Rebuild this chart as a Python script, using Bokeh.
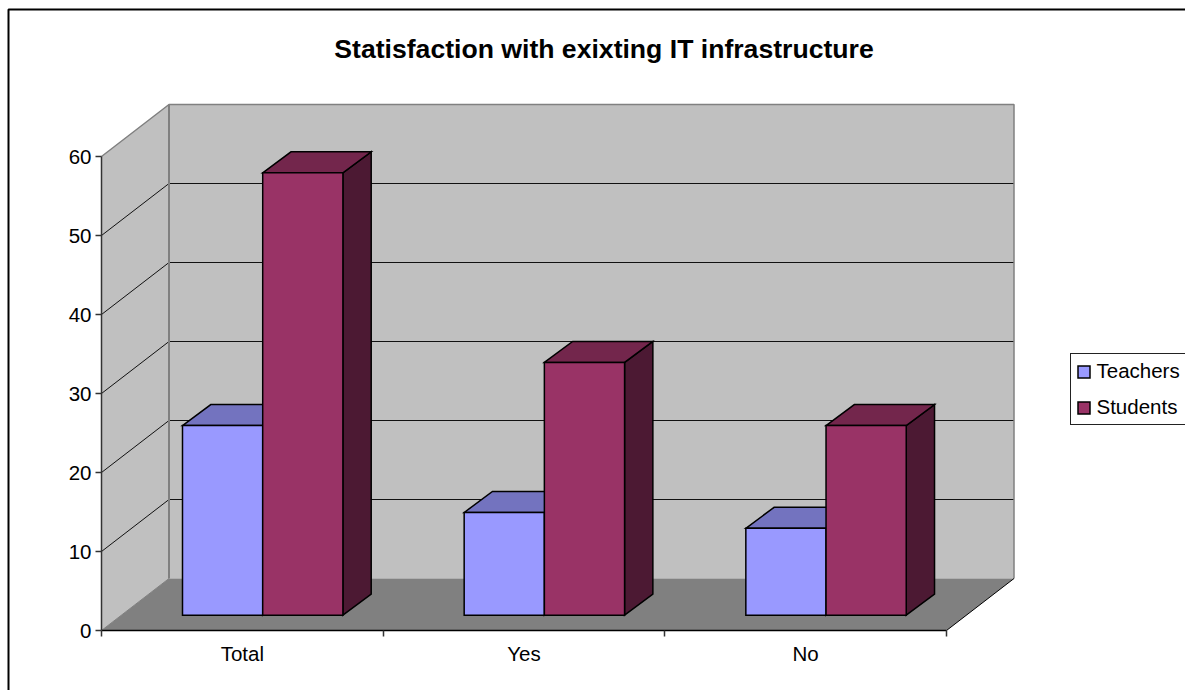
from bokeh.embed import file_html
from bokeh.models import (BoxAnnotation, FixedTicker, Label, Legend, LegendItem, LinearAxis,
                          Range1d)
from bokeh.plotting import figure
from bokeh.resources import INLINE

# Survey results
categories = ["Total", "Yes", "No"]
teachers = [24, 13, 11]
students = [56, 32, 24]
value_ticks = [0, 10, 20, 30, 40, 50, 60]
gridline_values = [10, 20, 30, 40, 50]

WIDTH, HEIGHT = 1185, 690

# Pixel position of the origin and pixel size of one category and one value unit
ORIGIN_X, ORIGIN_Y = 101, 630
CAT_PX = 845 / 3
VAL_PX = 7.9

# Oblique projection: walls recede by this much in data units
WALL_DX = 67.5 / CAT_PX
WALL_DY = 52 / VAL_PX
BAR_DX = 28.3 / CAT_PX
BAR_DY = 21 / VAL_PX
BAR_W = 80.2 / CAT_PX
BAR_START = 81 / CAT_PX
BAR_BASE = 15.3 / VAL_PX
VALUE_TOP = 60

# The frame fills the page; the axes are pinned at the data origin inside it
p = figure(
    width=WIDTH, height=HEIGHT, output_backend="svg", toolbar_location=None,
    x_range=Range1d(-ORIGIN_X / CAT_PX, (WIDTH - ORIGIN_X) / CAT_PX),
    y_range=Range1d(-(HEIGHT - ORIGIN_Y) / VAL_PX, ORIGIN_Y / VAL_PX),
    min_border=0, x_axis_type=None, y_axis_type=None,
    background_fill_color="white", border_fill_color="white",
    outline_line_color=None,
)
p.grid.visible = False

# Walls and floor
n = len(categories)
side_x = [0, WALL_DX, WALL_DX, 0]
side_y = [0, WALL_DY, VALUE_TOP + WALL_DY, VALUE_TOP]
back_x = [WALL_DX, n + WALL_DX, n + WALL_DX, WALL_DX]
back_y = [WALL_DY, WALL_DY, VALUE_TOP + WALL_DY, VALUE_TOP + WALL_DY]
floor_x = [0, n, n + WALL_DX, WALL_DX]
floor_y = [0, 0, WALL_DY, WALL_DY]
p.patch(side_x, side_y, fill_color="#c0c0c0", line_color=None)
p.patch(back_x, back_y, fill_color="#c0c0c0", line_color=None)
p.patch(floor_x, floor_y, fill_color="#808080", line_color=None)

# Gridlines wrap from the side wall on to the back wall
for v in gridline_values:
    p.line([0, WALL_DX, n + WALL_DX], [v, v + WALL_DY, v + WALL_DY],
           line_color="#111111", line_width=1)

# Wall edges
p.line([0, WALL_DX, n + WALL_DX, n + WALL_DX],
       [VALUE_TOP, VALUE_TOP + WALL_DY, VALUE_TOP + WALL_DY, WALL_DY],
       line_color="#808080", line_width=1.5)
p.line([WALL_DX, WALL_DX], [WALL_DY, VALUE_TOP + WALL_DY], line_color="#808080", line_width=2)
p.line([0, WALL_DX], [0, WALL_DY], line_color="#808080", line_width=1)
p.line([n, n + WALL_DX], [0, WALL_DY], line_color="black", line_width=1)

BLUE = {"front": "#9999ff", "top": "#7373bf", "side": "#4c4c80"}
RED = {"front": "#993366", "top": "#73264c", "side": "#4c1933"}
EDGE = dict(line_color="black", line_width=1.5, line_join="miter")


def draw_bar(x0, value, colours):
    """Draw one oblique column and return the renderer of its front face."""
    x1 = x0 + BAR_W
    top = BAR_BASE + value
    p.patch([x1, x1 + BAR_DX, x1 + BAR_DX, x1],
            [BAR_BASE, BAR_BASE + BAR_DY, top + BAR_DY, top],
            fill_color=colours["side"], **EDGE)
    p.patch([x0, x0 + BAR_DX, x1 + BAR_DX, x1],
            [top, top + BAR_DY, top + BAR_DY, top],
            fill_color=colours["top"], **EDGE)
    return p.quad(left=[x0], right=[x1], bottom=[BAR_BASE], top=[top],
                  fill_color=colours["front"], **EDGE)


teacher_faces, student_faces = [], []
for i in range(n):
    start = i + BAR_START
    teacher_faces.append(draw_bar(start, teachers[i], BLUE))
    student_faces.append(draw_bar(start + BAR_W, students[i], RED))

# Value axis on the front of the side wall
y_axis = LinearAxis(
    ticker=FixedTicker(ticks=value_ticks), bounds=(0, VALUE_TOP), fixed_location=0,
    axis_line_color="#333333", axis_line_width=1.5,
    major_tick_line_color="#333333", major_tick_line_width=1.5,
    major_tick_in=0, major_tick_out=6, minor_tick_line_color=None,
    major_label_standoff=4, major_label_text_font="Liberation Sans",
    major_label_text_font_size="20.5px", major_label_text_color="black",
)
p.add_layout(y_axis, "left")

# Category axis: ticks between categories, labels centred on each one
x_axis = LinearAxis(
    ticker=FixedTicker(ticks=[i + 0.5 for i in range(n)], minor_ticks=list(range(n + 1))),
    bounds=(0, n), fixed_location=0, axis_line_color="black", axis_line_width=1.5,
    major_tick_line_color=None, major_tick_in=0, major_tick_out=0,
    minor_tick_line_color="#333333", minor_tick_line_width=1.5,
    minor_tick_in=0, minor_tick_out=6,
    major_label_overrides={i + 0.5: c for i, c in enumerate(categories)},
    major_label_standoff=5, major_label_text_font="Liberation Sans",
    major_label_text_font_size="20.5px", major_label_text_color="black",
)
p.add_layout(x_axis, "below")

# Title
p.add_layout(Label(
    x=603.5, y=HEIGHT - 48, x_units="screen", y_units="screen",
    text="Statisfaction with exixting IT infrastructure",
    text_font="Liberation Sans", text_font_size="26.6px", text_font_style="bold",
    text_color="black", text_align="center", text_baseline="middle",
))

# Legend, running past the window's right edge
legend = Legend(
    items=[LegendItem(label="Teachers", renderers=[teacher_faces[0]]),
           LegendItem(label="Students", renderers=[student_faces[0]])],
    location=(1069.5, HEIGHT - 425), orientation="vertical",
    glyph_width=15, glyph_height=15, label_standoff=6, spacing=12, padding=5,
    margin=0, label_text_font="Liberation Sans", label_text_font_size="20.5px",
    label_text_color="black", label_height=20, label_width=110,
    border_line_color="#222222", border_line_width=1.5, border_line_alpha=1,
    background_fill_color="white", background_fill_alpha=1,
)
p.add_layout(legend, "center")

# Chart area border: only its top and left sides fall inside the page
p.add_layout(BoxAnnotation(
    left=8, top=HEIGHT - 9, right=WIDTH + 100, bottom=-100,
    left_units="screen", right_units="screen", top_units="screen", bottom_units="screen",
    fill_alpha=0, line_color="black", line_alpha=1, line_width=2,
))

open("out.html", "w").write(file_html(p, INLINE))
